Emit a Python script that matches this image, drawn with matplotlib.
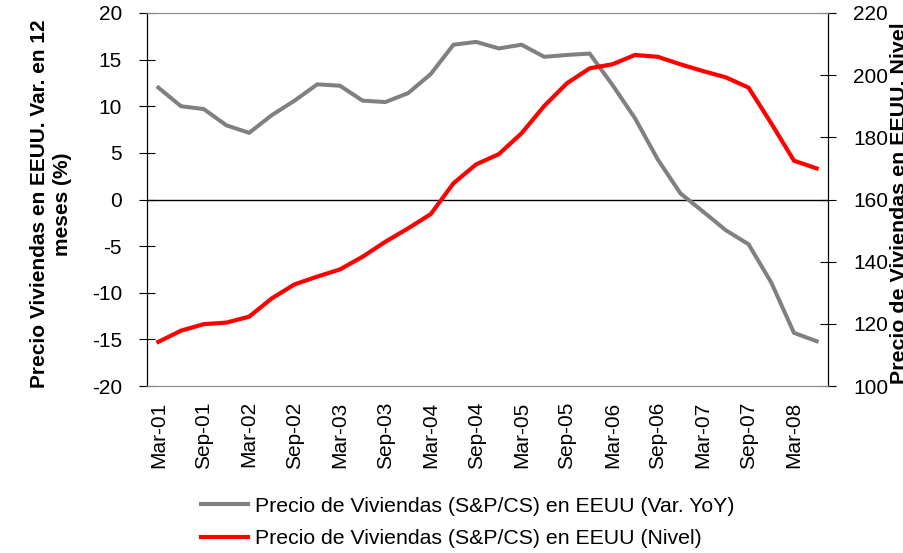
import matplotlib.pyplot as plt

plt.rcParams['font.family'] = ['Liberation Sans', 'DejaVu Sans']
plt.rcParams['axes.unicode_minus'] = False

# Datos trimestrales (Mar-01 a Jun-08)
fechas = ['Mar-01', 'Jun-01', 'Sep-01', 'Dec-01', 'Mar-02', 'Jun-02', 'Sep-02', 'Dec-02',
          'Mar-03', 'Jun-03', 'Sep-03', 'Dec-03', 'Mar-04', 'Jun-04', 'Sep-04', 'Dec-04',
          'Mar-05', 'Jun-05', 'Sep-05', 'Dec-05', 'Mar-06', 'Jun-06', 'Sep-06', 'Dec-06',
          'Mar-07', 'Jun-07', 'Sep-07', 'Dec-07', 'Mar-08', 'Jun-08']
var_yoy = [12.0, 10.0, 9.7, 7.95, 7.15, 9.05, 10.6, 12.35, 12.2, 10.6, 10.45, 11.4,
           13.45, 16.6, 16.9, 16.2, 16.6, 15.3, 15.5, 15.65, 12.3, 8.7, 4.3, 0.65,
           -1.3, -3.3, -4.8, -8.9, -14.3, -15.2]
nivel = [114.2, 117.8, 119.9, 120.4, 122.3, 128.2, 132.7, 135.2, 137.5, 141.6,
         146.4, 150.7, 155.3, 165.2, 171.3, 174.6, 181.3, 190.1, 197.4, 202.2,
         203.5, 206.5, 205.9, 203.5, 201.3, 199.3, 196.0, 184.5, 172.5, 170.0]

lbl_yoy = 'Precio de Viviendas (S&P/CS) en EEUU (Var. YoY)'
lbl_nivel = 'Precio de Viviendas (S&P/CS) en EEUU (Nivel)'

x = list(range(len(fechas)))

fig = plt.figure(figsize=(9.04, 5.53), dpi=100)
ax1 = fig.add_axes([147 / 904, 1 - 386 / 553, (828 - 147) / 904, (386 - 13) / 553])
ax2 = ax1.twinx()

l1, = ax1.plot(x, var_yoy, color='#808080', lw=2.9, label=lbl_yoy, solid_joinstyle='miter')
l2, = ax2.plot(x, nivel, color='#FF0000', lw=3.0, label=lbl_nivel, solid_joinstyle='miter')
ax1.axhline(0, color='black', lw=1, zorder=1)

ax1.set_xlim(-0.5, len(fechas) - 0.5)
ax1.set_ylim(-20, 20)
ax1.set_yticks(range(-20, 21, 5))
ax2.set_ylim(100, 220)
ax2.set_yticks(range(100, 221, 20))

ax1.set_xticks(x[::2])
ax1.set_xticklabels(fechas[::2], rotation=90, fontsize=15)
ax1.tick_params(axis='x', length=0, pad=11)
ax1.tick_params(axis='y', direction='inout', length=12, labelsize=15, pad=12)
ax2.tick_params(axis='y', direction='inout', length=12, labelsize=15, pad=12)

for ax in (ax1, ax2):
    ax.spines['top'].set_color('#8c8c8c')
    ax.spines['bottom'].set_color('#8c8c8c')
    ax.spines['left'].set_color('black')
    ax.spines['right'].set_color('black')

fig.text(51 / 904, 1 - 204 / 553, 'Precio Viviendas en EEUU. Var. en 12\nmeses (%)',
         rotation=90, ha='center', va='center', multialignment='center',
         fontsize=15, fontweight='bold', linespacing=1.3)
fig.text(900 / 904, 1 - 384 / 553, 'Precio de Viviendas en EEUU. Nivel',
         rotation=90, ha='center', va='bottom', fontsize=15.4, fontweight='bold')

fig.legend(handles=[l1, l2], loc='upper left', bbox_to_anchor=(193 / 904, 1 - 488 / 553),
           frameon=False, fontsize=15.3, handlelength=2.2, handletextpad=0.3,
           labelspacing=0.65, borderaxespad=0)

fig.savefig('out.png', dpi=100)
